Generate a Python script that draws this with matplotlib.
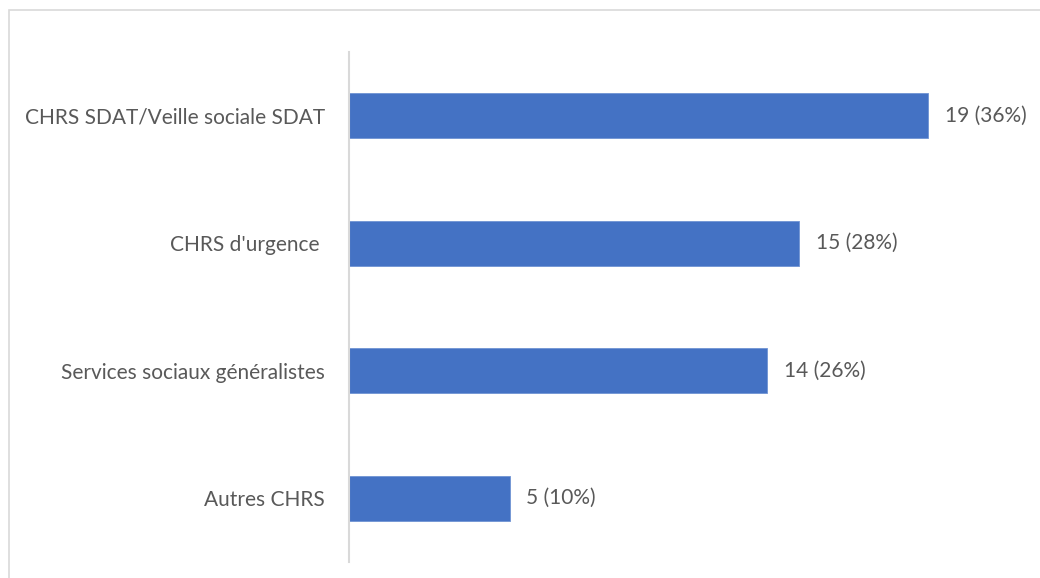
import matplotlib
matplotlib.use("Agg")
import matplotlib.pyplot as plt
from matplotlib.patches import Rectangle

categories = ["CHRS SDAT/Veille sociale SDAT", "CHRS d'urgence ",
              "Services sociaux généralistes", "Autres CHRS"]
counts = [19, 15, 14, 5]
percents = [36, 28, 26, 10]

W, H = 1040, 578
fig = plt.figure(figsize=(W / 100, H / 100), dpi=100)
fig.patch.set_facecolor("white")

# light frame around the chart area (runs off the right and bottom edges)
fig.add_artist(Rectangle((9 / W, -0.05), 1.1, 1 - 10 / H + 0.05,
                         transform=fig.transFigure, fill=False,
                         edgecolor="#d9d9d9", linewidth=1.2))

left_px, right_px, top_px, bottom_px = 348.5, 1020, 52, 562
ax = fig.add_axes([left_px / W, 1 - bottom_px / H,
                   (right_px - left_px) / W, (bottom_px - top_px) / H])

px_per_unit = 16.1
ax.set_xlim(0, (right_px - left_px) / px_per_unit)
ax.set_ylim(len(categories) - 0.5, -0.5)

y = list(range(len(categories)))
ax.barh(y, percents, height=0.353, color="#4472C4", edgecolor="#6f93d3",
        linewidth=0.6, zorder=2)

font = "Lato"
text_color = "#595959"
for yi, c, p in zip(y, counts, percents):
    ax.annotate(f"{c} ({p}%)", xy=(p, yi), xytext=(17, 0),
                textcoords="offset pixels",
                va="center", ha="left", fontsize=15, color=text_color,
                family=font)

ax.set_yticks(y)
ax.set_yticklabels(categories, fontsize=15, color=text_color, family=font)
ax.tick_params(axis="y", length=0, pad=17)
ax.set_xticks([])

for s in ["top", "right", "bottom"]:
    ax.spines[s].set_visible(False)
ax.spines["left"].set_color("#d9d9d9")
ax.spines["left"].set_linewidth(1.5)

fig.savefig("out.png", dpi=100, facecolor="white")
